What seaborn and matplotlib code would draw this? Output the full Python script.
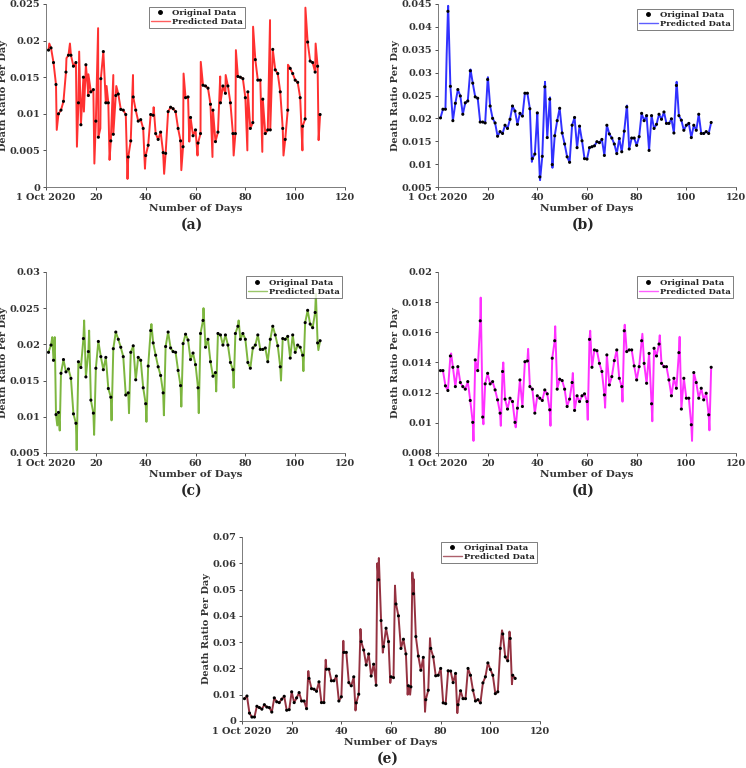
import numpy as np
import pandas as pd
import matplotlib
matplotlib.use('Agg')
import matplotlib.pyplot as plt
import seaborn as sns
from matplotlib.lines import Line2D

# days since 1 Oct 2020
days = list(range(1, 111))

# (a) observed death ratio
a_orig = [0.0187, 0.0190, 0.0170, 0.0140, 0.0100, 0.0105, 0.0117, 0.0157, 0.0180, 0.0180,
          0.0165, 0.0170, 0.0115, 0.0085, 0.0150, 0.0167, 0.0125, 0.0130, 0.0133, 0.0090,
          0.0068, 0.0148, 0.0185, 0.0115, 0.0115, 0.0063, 0.0072, 0.0125, 0.0127, 0.0106,
          0.0105, 0.0099, 0.0041, 0.0063, 0.0123, 0.0105, 0.0090, 0.0092, 0.0080, 0.0043,
          0.0057, 0.0099, 0.0098, 0.0073, 0.0065, 0.0075, 0.0047, 0.0046, 0.0103, 0.0109,
          0.0107, 0.0103, 0.0080, 0.0063, 0.0055, 0.0122, 0.0123, 0.0095, 0.0070, 0.0078,
          0.0060, 0.0073, 0.0139, 0.0138, 0.0135, 0.0113, 0.0105, 0.0062, 0.0075, 0.0115,
          0.0138, 0.0128, 0.0138, 0.0115, 0.0073, 0.0073, 0.0151, 0.0150, 0.0148, 0.0122,
          0.0130, 0.0080, 0.0088, 0.0174, 0.0146, 0.0146, 0.0120, 0.0073, 0.0078, 0.0078,
          0.0188, 0.0160, 0.0155, 0.0130, 0.0080, 0.0065, 0.0105, 0.0162, 0.0155, 0.0146,
          0.0143, 0.0122, 0.0083, 0.0093, 0.0198, 0.0172, 0.0170, 0.0157, 0.0165, 0.0099]
a_spike_x = [1.3, 4.3, 8.2, 9.6, 12.4, 13.3, 15.2, 17.0, 19.4, 20.9, 21.8, 24.3, 25.5,
             27.0, 28.2, 32.7, 34.9, 39.7, 43.2, 47.4, 54.3, 55.2, 57.5, 60.8, 62.1,
             66.8, 69.9, 72.1, 75.3, 76.2, 80.8, 83.1, 86.8, 89.9, 95.3, 97.1, 102.9,
             104.1, 108.2, 109.4]
a_spike_y = [0.0196, 0.0078, 0.0176, 0.0196, 0.0055, 0.0185, 0.0103, 0.0154, 0.0032, 0.0217,
             0.0080, 0.0138, 0.0037, 0.0153, 0.0138, 0.0011, 0.0153, 0.0025, 0.0109, 0.0018,
             0.0023, 0.0155, 0.0062, 0.0043, 0.0171, 0.0041, 0.0151, 0.0153, 0.0043, 0.0187,
             0.0050, 0.0219, 0.0048, 0.0228, 0.0043, 0.0167, 0.0050, 0.0245, 0.0196, 0.0064]

# (b)
b_orig = [0.0201, 0.0220, 0.0220, 0.0434, 0.0270, 0.0195, 0.0233, 0.0263, 0.0249, 0.0209,
          0.0234, 0.0238, 0.0304, 0.0277, 0.0247, 0.0244, 0.0192, 0.0192, 0.0190, 0.0285,
          0.0227, 0.0200, 0.0190, 0.0161, 0.0171, 0.0167, 0.0185, 0.0178, 0.0198, 0.0227,
          0.0216, 0.0187, 0.0211, 0.0205, 0.0255, 0.0255, 0.0221, 0.0112, 0.0122, 0.0212,
          0.0072, 0.0117, 0.0269, 0.0158, 0.0242, 0.0099, 0.0162, 0.0195, 0.0222, 0.0168,
          0.0144, 0.0116, 0.0104, 0.0185, 0.0202, 0.0136, 0.0183, 0.0151, 0.0112, 0.0111,
          0.0136, 0.0138, 0.0140, 0.0149, 0.0147, 0.0154, 0.0119, 0.0185, 0.0166, 0.0157,
          0.0144, 0.0123, 0.0156, 0.0127, 0.0172, 0.0225, 0.0133, 0.0157, 0.0157, 0.0141,
          0.0160, 0.0211, 0.0195, 0.0206, 0.0130, 0.0206, 0.0178, 0.0187, 0.0209, 0.0198,
          0.0214, 0.0189, 0.0189, 0.0199, 0.0168, 0.0272, 0.0206, 0.0196, 0.0174, 0.0185,
          0.0189, 0.0158, 0.0185, 0.0174, 0.0209, 0.0167, 0.0167, 0.0171, 0.0167, 0.0191]
b_spike_x = [3.5, 4.1, 13.1, 20.1, 37.8, 40.2, 41.1, 43.1, 45.1, 46.1, 76.1, 96.1]
b_spike_y = [0.0340, 0.0446, 0.0307, 0.0290, 0.0105, 0.0180, 0.0065, 0.0280, 0.0246, 0.0092,
             0.0228, 0.0280]

# (c)
c_orig = [0.0189, 0.0199, 0.0178, 0.0103, 0.0106, 0.0160, 0.0179, 0.0162, 0.0166, 0.0153,
          0.0104, 0.0091, 0.0176, 0.0168, 0.0208, 0.0155, 0.0190, 0.0123, 0.0105, 0.0167,
          0.0204, 0.0183, 0.0165, 0.0182, 0.0139, 0.0127, 0.0194, 0.0217, 0.0207, 0.0196,
          0.0183, 0.0130, 0.0133, 0.0189, 0.0198, 0.0151, 0.0182, 0.0178, 0.0140, 0.0118,
          0.0170, 0.0219, 0.0202, 0.0185, 0.0169, 0.0157, 0.0133, 0.0197, 0.0217, 0.0195,
          0.0190, 0.0189, 0.0164, 0.0143, 0.0201, 0.0214, 0.0206, 0.0179, 0.0188, 0.0172,
          0.0140, 0.0215, 0.0233, 0.0196, 0.0207, 0.0176, 0.0156, 0.0161, 0.0215, 0.0213,
          0.0199, 0.0213, 0.0199, 0.0175, 0.0165, 0.0215, 0.0225, 0.0207, 0.0215, 0.0207,
          0.0175, 0.0167, 0.0195, 0.0199, 0.0213, 0.0193, 0.0193, 0.0195, 0.0176, 0.0207,
          0.0225, 0.0213, 0.0198, 0.0169, 0.0208, 0.0207, 0.0211, 0.0181, 0.0213, 0.0189,
          0.0199, 0.0196, 0.0185, 0.0230, 0.0247, 0.0228, 0.0223, 0.0244, 0.0202, 0.0205]
c_spike_x = [2.5, 3.5, 4.5, 5.5, 12.3, 15.3, 17.3, 19.3, 26.3, 33.3, 40.3, 42.3, 47.3,
             54.3, 61.3, 63.2, 68.3, 75.3, 77.3, 94.3, 103.3, 108.3, 109.3]
c_spike_y = [0.0210, 0.0210, 0.0088, 0.0081, 0.0054, 0.0233, 0.0219, 0.0075, 0.0095, 0.0105,
             0.0093, 0.0228, 0.0102, 0.0114, 0.0105, 0.0250, 0.0135, 0.0140, 0.0233, 0.0150,
             0.0163, 0.0270, 0.0192]

# (d)
d_orig = [0.01346, 0.01346, 0.01245, 0.01214, 0.01443, 0.01368, 0.01240, 0.01372, 0.01267, 0.01240,
          0.01223, 0.01273, 0.01148, 0.01003, 0.01417, 0.01346, 0.01676, 0.01038, 0.01258, 0.01328,
          0.01258, 0.01273, 0.01218, 0.01152, 0.01064, 0.01340, 0.01157, 0.01091, 0.01163, 0.01141,
          0.01003, 0.01097, 0.01284, 0.01108, 0.01405, 0.01410, 0.01240, 0.01223, 0.01064, 0.01179,
          0.01163, 0.01148, 0.01218, 0.01192, 0.01086, 0.01428, 0.01544, 0.01223, 0.01289, 0.01280,
          0.01223, 0.01108, 0.01157, 0.01267, 0.01082, 0.01179, 0.01141, 0.01179, 0.01192, 0.01141,
          0.01553, 0.01368, 0.01483, 0.01478, 0.01394, 0.01340, 0.01185, 0.01450, 0.01251, 0.01306,
          0.01412, 0.01483, 0.01295, 0.01240, 0.01610, 0.01472, 0.01483, 0.01483, 0.01377, 0.01284,
          0.01372, 0.01544, 0.01394, 0.01262, 0.01460, 0.01126, 0.01494, 0.01443, 0.01522, 0.01394,
          0.01372, 0.01372, 0.01284, 0.01179, 0.01295, 0.01229, 0.01465, 0.01091, 0.01295, 0.01163,
          0.01163, 0.00987, 0.01333, 0.01267, 0.01163, 0.01229, 0.01152, 0.01196, 0.01053, 0.01368]
d_spike_x = [5.3, 14.3, 17.2, 18.3, 25.3, 26.3, 31.3, 36.3, 45.3, 47.2, 54.3, 60.3, 61.3,
             67.3, 74.3, 75.2, 82.3, 86.3, 89.3, 97.3, 102.3, 109.3]
d_spike_y = [0.0146, 0.0088, 0.0183, 0.0099, 0.0098, 0.0140, 0.0097, 0.0149, 0.0098, 0.0164,
             0.0133, 0.0102, 0.0161, 0.0110, 0.0114, 0.0165, 0.0159, 0.0101, 0.0158, 0.0157,
             0.0088, 0.0095]

# (e)
e_orig = [0.0085, 0.0095, 0.0030, 0.0015, 0.0015, 0.0056, 0.0051, 0.0045, 0.0062, 0.0053,
          0.0051, 0.0034, 0.0088, 0.0073, 0.0070, 0.0083, 0.0094, 0.0041, 0.0043, 0.0111,
          0.0070, 0.0088, 0.0108, 0.0076, 0.0076, 0.0047, 0.0162, 0.0123, 0.0121, 0.0113,
          0.0149, 0.0070, 0.0070, 0.0197, 0.0197, 0.0153, 0.0153, 0.0171, 0.0076, 0.0092,
          0.0261, 0.0261, 0.0146, 0.0134, 0.0168, 0.0069, 0.0102, 0.0302, 0.0270, 0.0213,
          0.0255, 0.0171, 0.0216, 0.0136, 0.0537, 0.0382, 0.0283, 0.0353, 0.0302, 0.0168,
          0.0165, 0.0445, 0.0400, 0.0276, 0.0311, 0.0255, 0.0134, 0.0130, 0.0484, 0.0321,
          0.0247, 0.0193, 0.0242, 0.0081, 0.0117, 0.0276, 0.0244, 0.0172, 0.0174, 0.0200,
          0.0069, 0.0066, 0.0191, 0.0190, 0.0146, 0.0181, 0.0062, 0.0115, 0.0085, 0.0085,
          0.0200, 0.0174, 0.0117, 0.0076, 0.0081, 0.0069, 0.0145, 0.0168, 0.0221, 0.0196,
          0.0174, 0.0104, 0.0111, 0.0276, 0.0331, 0.0244, 0.0229, 0.0314, 0.0174, 0.0162]
e_spike_x = [26.7, 33.7, 40.8, 45.7, 47.7, 54.5, 55.1, 56.7, 59.7, 61.6, 66.7, 67.7,
             68.6, 69.1, 73.7, 75.7, 86.7, 104.7, 107.7, 108.7]
e_spike_y = [0.0190, 0.0233, 0.0305, 0.0040, 0.0350, 0.0600, 0.0620, 0.0260, 0.0145, 0.0515,
             0.0100, 0.0100, 0.0565, 0.0540, 0.0035, 0.0315, 0.0030, 0.0345, 0.0340, 0.0140]

panels = [
    ('(a)', a_orig, a_spike_x, a_spike_y, '#ff1a1a', [0, 0.005, 0.01, 0.015, 0.02, 0.025],
     (0, 0.025), [0.0617, 0.7565, 0.4008, 0.2383], (0.345, 0.985), 'upper left'),
    ('(b)', b_orig, b_spike_x, b_spike_y, '#1a1aff', [0.005, 0.01, 0.015, 0.02, 0.025, 0.03, 0.035, 0.04, 0.045],
     (0.005, 0.045), [0.5871, 0.7565, 0.3995, 0.2383], (0.99, 0.975), 'upper right'),
    ('(c)', c_orig, c_spike_x, c_spike_y, '#6fae2a', [0.005, 0.01, 0.015, 0.02, 0.025, 0.03],
     (0.005, 0.03), [0.0617, 0.4102, 0.4008, 0.2357], (0.99, 0.975), 'upper right'),
    ('(d)', d_orig, d_spike_x, d_spike_y, '#ff1aff', [0.008, 0.01, 0.012, 0.014, 0.016, 0.018, 0.02],
     (0.008, 0.02), [0.5871, 0.4102, 0.3995, 0.2357], (0.99, 0.975), 'upper right'),
    ('(e)', e_orig, e_spike_x, e_spike_y, '#8a1c2c', [0, 0.01, 0.02, 0.03, 0.04, 0.05, 0.06, 0.07],
     (0, 0.07), [0.3244, 0.0612, 0.3995, 0.2396], (0.99, 0.975), 'upper right'),
]

sns.set_style('ticks')
plt.rcParams['font.family'] = ['DejaVu Serif']
plt.rcParams['font.weight'] = 'bold'
plt.rcParams['axes.labelweight'] = 'bold'

fig = plt.figure(figsize=(7.46, 7.68), dpi=100)

for tag, orig, sx, sy, color, yticks, ylim, pos, lpos, lloc in panels:
    ax = fig.add_axes(pos)
    obs = pd.DataFrame({'day': days, 'ratio': orig})
    pred = pd.concat([obs, pd.DataFrame({'day': sx, 'ratio': sy})]).sort_values('day')
    sns.lineplot(data=pred, x='day', y='ratio', ax=ax, color=color, lw=1.4,
                 estimator=None, sort=False, alpha=0.9)
    sns.scatterplot(data=obs, x='day', y='ratio', ax=ax, color='black', s=5,
                    marker='o', edgecolor='none', zorder=3)
    ax.set_xlim(0, 120)
    ax.set_ylim(*ylim)
    ax.set_xticks([0, 20, 40, 60, 80, 100, 120])
    ax.set_xticklabels(['1 Oct 2020', '20', '40', '60', '80', '100', '120'])
    ax.set_yticks(yticks)
    ax.set_yticklabels([('%g' % t) for t in yticks])
    ax.tick_params(labelsize=7, length=2.5, width=0.6, colors='#333333', pad=1.5)
    for lab in ax.get_xticklabels() + ax.get_yticklabels():
        lab.set_fontweight('bold')
    ax.set_xlabel('Number of Days', fontsize=7.5, labelpad=2, color='#333333')
    ax.set_ylabel('Death Ratio Per Day', fontsize=7, labelpad=1, color='#333333')
    for s in ['left', 'bottom']:
        ax.spines[s].set_linewidth(0.6)
        ax.spines[s].set_color('#666666')
    sns.despine(ax=ax)
    handles = [Line2D([], [], ls='none', marker='o', ms=2.5, color='black'),
               Line2D([], [], color=color, lw=1.0, alpha=0.7)]
    leg = ax.legend(handles, ['Original Data', 'Predicted Data'], loc=lloc, bbox_to_anchor=lpos,
                    fontsize=6, frameon=True, fancybox=False, edgecolor='#444444',
                    borderpad=0.25, labelspacing=0.15, handlelength=2.2, handletextpad=0.3,
                    borderaxespad=0)
    leg.get_frame().set_linewidth(0.6)
    x0 = pos[0] + pos[2] / 2 - 0.005
    fig.text(x0, pos[1] - 0.049, tag, ha='center', va='center', fontsize=10,
             fontweight='bold', family='DejaVu Serif')

fig.savefig('out.png', dpi=100)
